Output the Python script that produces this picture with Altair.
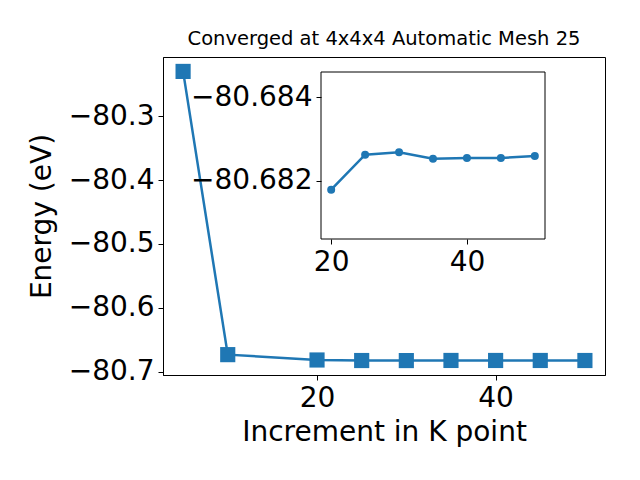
import altair as alt
import pandas as pd

# data
k_points = [5, 10, 20, 25, 30, 35, 40, 45, 50]
energy = [-80.2297, -80.6734, -80.68178, -80.68262, -80.68268, -80.68252, -80.68254, -80.68254, -80.68259]
inset_k = [20, 25, 30, 35, 40, 45, 50]
inset_energy = [-80.68178, -80.68262, -80.68268, -80.68252, -80.68254, -80.68254, -80.68259]
main_x_ticks = [20, 40]
main_y_ticks = [-80.3, -80.4, -80.5, -80.6, -80.7]
inset_x_ticks = [20, 40]
inset_y_ticks = [-80.684, -80.682]
inset_x_domain = [18.5, 51.5]
inset_y_domain = [-80.6846, -80.6806]

BLUE = "#1f77b4"
FONT = "DejaVu Sans"
W, H = 442, 318

main_df = pd.DataFrame({"k": k_points, "e": energy})
inset_df = pd.DataFrame({"k": inset_k, "e": inset_energy})
frame_df = pd.DataFrame({"x0": [inset_x_domain[0]], "x1": [inset_x_domain[1]],
                         "y0": [inset_y_domain[0]], "y1": [inset_y_domain[1]]})

axis_common = dict(grid=False, labelFont=FONT, titleFont=FONT, labelFontSize=28,
                   titleFontSize=28, titleFontWeight="normal", labelColor="black",
                   titleColor="black", tickColor="black", domainColor="black",
                   tickSize=5, labelPadding=4)

mx = alt.X("k:Q", scale=alt.Scale(domain=[2.75, 52.25], nice=False, zero=False),
           axis=alt.Axis(values=main_x_ticks, title="Increment in K point", format="d",
                         titlePadding=6, **axis_common))
my = alt.Y("e:Q", scale=alt.Scale(domain=[-80.7053, -80.2071], nice=False, zero=False),
           axis=alt.Axis(values=main_y_ticks, title="Energy (eV)", format=".1f",
                         titlePadding=12, **axis_common))

main_line = alt.Chart(main_df).mark_line(color=BLUE, strokeWidth=2.5).encode(x=mx, y=my)
main_pts = alt.Chart(main_df).mark_point(shape="square", filled=True, size=230,
                                         color=BLUE, opacity=1).encode(x=mx, y=my)
main = alt.layer(main_line, main_pts)

ix_scale = alt.Scale(domain=inset_x_domain, range=[158, 382], nice=False, zero=False)
iy_scale = alt.Scale(domain=inset_y_domain, range=[15, 182], nice=False, zero=False)
ix_axis = alt.Axis(values=inset_x_ticks, title=None, format="d", orient="bottom",
                   offset=-136, zindex=2, domain=False, **axis_common)
iy_axis = alt.Axis(values=inset_y_ticks, title=None, format=".3f", orient="left",
                   offset=-158, zindex=2, domain=False, **axis_common)

frame = alt.Chart(frame_df).mark_rect(fill="white", stroke="black", strokeWidth=1).encode(
    x=alt.X("x0:Q", scale=ix_scale, axis=ix_axis),
    x2="x1:Q",
    y=alt.Y("y0:Q", scale=iy_scale, axis=iy_axis),
    y2="y1:Q",
)
ix = alt.X("k:Q", scale=ix_scale, axis=ix_axis)
iy = alt.Y("e:Q", scale=iy_scale, axis=iy_axis)
inset_line = alt.Chart(inset_df).mark_line(color=BLUE, strokeWidth=2.5).encode(x=ix, y=iy)
inset_pts = alt.Chart(inset_df).mark_circle(size=64, color=BLUE, opacity=1).encode(x=ix, y=iy)
inset = alt.layer(frame, inset_line, inset_pts)

chart = alt.layer(main, inset).resolve_scale(x="independent", y="independent").properties(
    width=W, height=H,
    title=alt.TitleParams("Converged at 4x4x4 Automatic Mesh 25", font=FONT, fontSize=19.5,
                          fontWeight="normal", color="black", anchor="middle", offset=8),
    autosize=alt.AutoSizeParams(type="none"),
    padding={"left": 155, "top": 49, "right": 27, "bottom": 97},
).configure_view(stroke="black", strokeWidth=1)

chart.save("out.html", embed_options={"renderer": "svg", "actions": False})
